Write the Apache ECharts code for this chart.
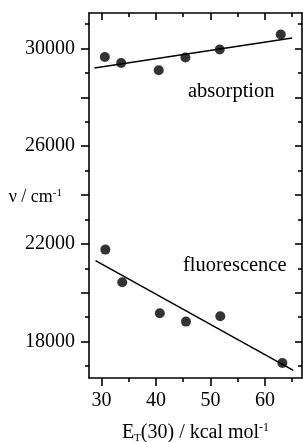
<!DOCTYPE html>
<html>
<head>
<meta charset="utf-8">
<script src="https://cdn.jsdelivr.net/npm/echarts@6/dist/echarts.min.js"></script>
<style>html,body{margin:0;padding:0;background:#fff}#c{width:303px;height:442px}</style>
</head>
<body>
<div id="c"></div>
<script>
// Data
var absE = [30.6, 33.6, 40.5, 45.4, 51.7, 62.9];
var absNu = [29656, 29410, 29111, 29631, 29959, 30573];
var fluE = [30.7, 33.8, 40.7, 45.5, 51.8, 63.2];
var fluNu = [21767, 20428, 19158, 18819, 19036, 17124];
var absFitE = [28.7, 65.0];
var absFitNu = [29206, 30434];
var fluFitE = [28.9, 65.2];
var fluFitNu = [21316, 16825];
var xLabels = [30, 40, 50, 60];
var xMinor = [35, 45, 55, 65];
var yLabels = [18000, 22000, 26000, 30000];
var yMajor = [18000, 20000, 22000, 24000, 26000, 28000, 30000];
var yMinor = [17000, 19000, 21000, 23000, 25000, 27000, 29000, 31000];

function pairs(a, b) { return a.map(function (v, i) { return [v, b[i]]; }); }

var FONT = 'Liberation Serif';
var X_MIN = 27.7, X_MAX = 66.8, Y_MIN = 16510, Y_MAX = 31455;
var lineStyle = { color: '#000', width: 1.6 };
function plain(v) { return String(Math.round(v)); }

function xAx(pos, showLine, ticks, len, inside, labels, extra) {
  var o = {
    type: 'value', position: pos, min: X_MIN, max: X_MAX,
    axisLine: { show: showLine, onZero: false, lineStyle: lineStyle },
    axisTick: { show: true, customValues: ticks, length: len, inside: inside, lineStyle: lineStyle },
    axisLabel: labels ? { customValues: labels, formatter: plain, fontFamily: FONT, fontSize: 20, color: '#000', margin: 13 } : { show: false },
    splitLine: { show: false }
  };
  return Object.assign(o, extra || {});
}
function yAx(pos, showLine, ticks, len, inside, labels, extra) {
  var o = {
    type: 'value', position: pos, min: Y_MIN, max: Y_MAX,
    axisLine: { show: showLine, onZero: false, lineStyle: lineStyle },
    axisTick: { show: true, customValues: ticks, length: len, inside: inside, lineStyle: lineStyle },
    axisLabel: labels ? { customValues: labels, formatter: plain, fontFamily: FONT, fontSize: 20, color: '#000', margin: 14 } : { show: false },
    splitLine: { show: false }
  };
  return Object.assign(o, extra || {});
}

var chart = echarts.init(document.getElementById('c'), null, { renderer: 'canvas' });
chart.setOption({
  animation: false,
  backgroundColor: '#fff',
  grid: { left: 89, top: 13, right: 1, bottom: 64, containLabel: false, outerBoundsMode: 'none' },
  xAxis: [
    xAx('bottom', true, xLabels, 8, false, xLabels, {
      name: '{n|E}{s|T}{n|(30) / kcal mol}{p|-1}',
      nameLocation: 'middle', nameGap: 44,
      nameTextStyle: {
        rich: {
          n: { fontFamily: FONT, fontSize: 20, color: '#000' },
          s: { fontFamily: FONT, fontSize: 11, color: '#000', verticalAlign: 'bottom', padding: [8, 0, 0, 0] },
          p: { fontFamily: FONT, fontSize: 12, color: '#000', verticalAlign: 'top', padding: [0, 0, 10, 0] }
        }
      }
    }),
    xAx('bottom', false, xMinor, 4, false, null),
    xAx('top', true, xLabels, 7, true, null),
    xAx('top', false, xMinor, 4, true, null)
  ],
  yAxis: [
    yAx('left', true, yMajor, 8, false, yLabels, {
      name: '{n|\u03bd / cm}{p|-1}',
      nameLocation: 'middle', nameGap: 27, nameRotate: 0, nameMoveOverlap: false,
      nameTextStyle: {
        padding: [4, 0, 0, 0],
        rich: {
          n: { fontFamily: FONT, fontSize: 18, color: '#000' },
          p: { fontFamily: FONT, fontSize: 11, color: '#000', verticalAlign: 'top', padding: [0, 0, 9, 0] }
        }
      }
    }),
    yAx('left', false, yMinor, 4, false, null),
    yAx('right', true, yMajor, 7, true, null),
    yAx('right', false, yMinor, 4, true, null)
  ],
  graphic: [
    { type: 'text', left: 188, top: 81, style: { text: 'absorption', font: '20.5px "Liberation Serif"', fill: '#000' } },
    { type: 'text', left: 183, top: 255, style: { text: 'fluorescence', font: '20.5px "Liberation Serif"', fill: '#000' } }
  ],
  series: [
    { type: 'line', data: pairs(absFitE, absFitNu), showSymbol: false, lineStyle: { color: '#000', width: 1.5 }, xAxisIndex: 0, yAxisIndex: 0 },
    { type: 'line', data: pairs(fluFitE, fluFitNu), showSymbol: false, lineStyle: { color: '#000', width: 1.5 }, xAxisIndex: 0, yAxisIndex: 0 },
    { type: 'scatter', data: pairs(absE, absNu), symbol: 'circle', symbolSize: 10, itemStyle: { color: '#000' }, xAxisIndex: 0, yAxisIndex: 0 },
    { type: 'scatter', data: pairs(fluE, fluNu), symbol: 'circle', symbolSize: 10, itemStyle: { color: '#000' }, xAxisIndex: 0, yAxisIndex: 0 }
  ]
});
</script>
</body>
</html>
